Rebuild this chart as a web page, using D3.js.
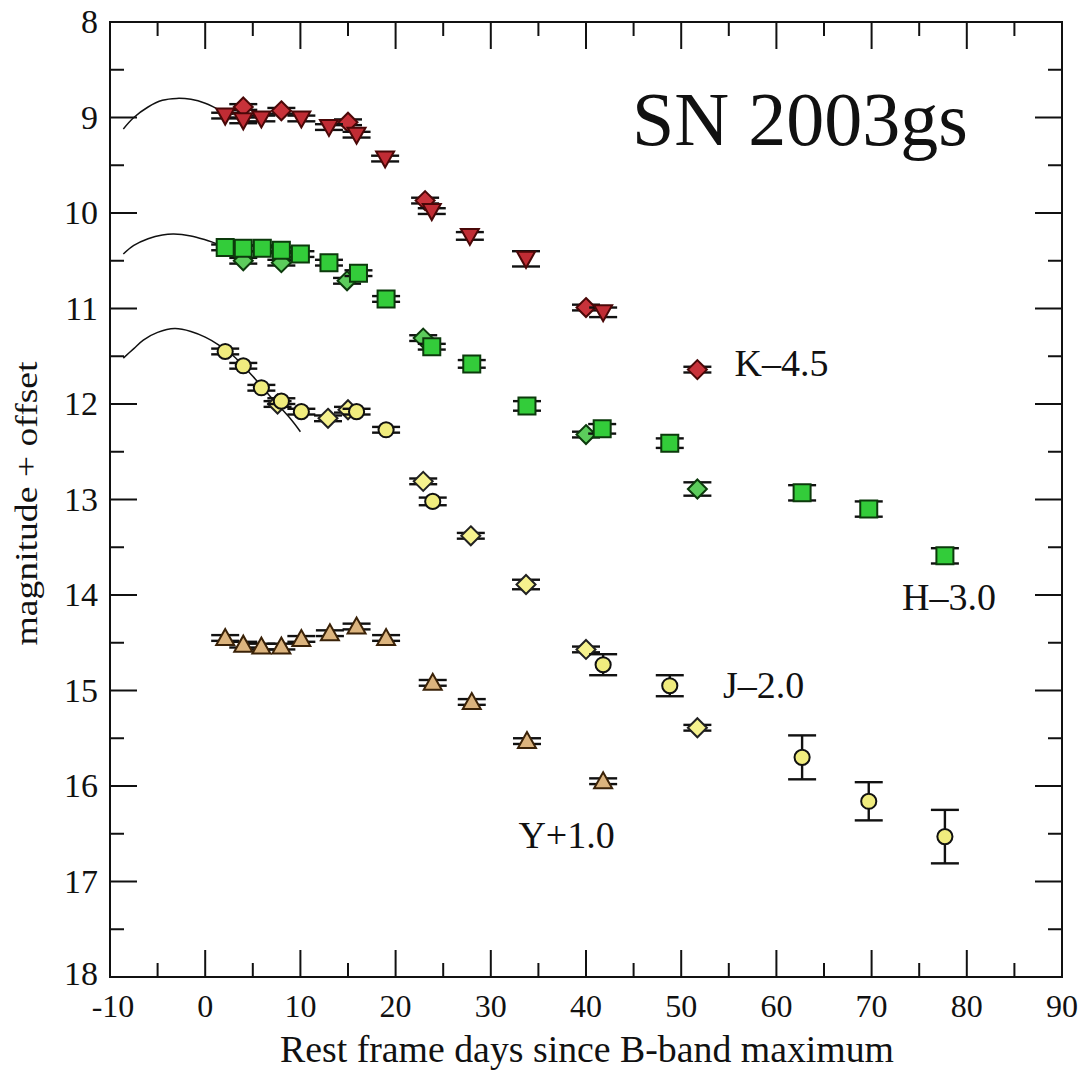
<!DOCTYPE html>
<html>
<head>
<meta charset="utf-8">
<script src="https://cdn.jsdelivr.net/npm/d3@7"></script>
<style>
  html, body { margin: 0; padding: 0; background: #fff; }
  svg { display: block; }
  text { font-family: "Liberation Serif", "DejaVu Serif", serif; fill: #111; }
</style>
</head>
<body>
<svg id="chart" width="1088" height="1070"></svg>
<script>
/* SN 2003gs NIR light curves — [days, magnitude + offset, error] */

const K_TRI = [[2.1, 8.98, 0.03], [4.0, 9.03, 0.03], [5.9, 9.01, 0.03], [10.1, 9.01, 0.03], [13.0, 9.10, 0.03],
  [15.9, 9.18, 0.03], [18.9, 9.43, 0.03], [23.8, 9.98, 0.03], [27.8, 10.24, 0.04], [33.7, 10.48, 0.08], [41.8, 11.04, 0.05]];
const K_DIA = [[4.0, 8.89, 0.03], [8.0, 8.93, 0.03], [15.0, 9.05, 0.03], [23.1, 9.87, 0.03], [40.0, 10.99, 0.03], [51.7, 11.64, 0.03]];

const H_SQ = [[2.1, 10.36, 0.03], [4.0, 10.37, 0.03], [6.0, 10.37, 0.03], [8.0, 10.39, 0.03], [10.0, 10.43, 0.03],
  [13.0, 10.52, 0.03], [16.1, 10.63, 0.03], [19.0, 10.90, 0.03], [23.8, 11.40, 0.03], [28.0, 11.58, 0.04],
  [33.8, 12.02, 0.05], [41.7, 12.26, 0.05], [48.8, 12.41, 0.05], [62.7, 12.93, 0.08], [69.7, 13.10, 0.08], [77.7, 13.59, 0.08]];
const H_DIA = [[4.0, 10.50, 0.03], [8.0, 10.52, 0.03], [14.9, 10.71, 0.03], [22.9, 11.31, 0.03], [40.0, 12.32, 0.03], [51.7, 12.89, 0.07]];

const J_CIR = [[2.1, 11.45, 0.03], [4.0, 11.60, 0.03], [5.9, 11.83, 0.03], [8.0, 11.97, 0.03], [10.1, 12.08, 0.03],
  [15.9, 12.08, 0.03], [19.0, 12.27, 0.03], [23.9, 13.02, 0.04], [41.8, 14.73, 0.11], [48.8, 14.95, 0.11],
  [62.7, 15.70, 0.23], [69.7, 16.16, 0.20], [77.7, 16.53, 0.28]];
const J_DIA = [[7.6, 12.00, 0.03], [12.9, 12.15, 0.03], [15.0, 12.06, 0.03], [22.9, 12.81, 0.03], [27.9, 13.38, 0.03],
  [33.7, 13.89, 0.05], [40.0, 14.57, 0.03], [51.7, 15.39, 0.03]];

const Y_TRI = [[2.1, 14.45, 0.03], [4.0, 14.52, 0.03], [5.9, 14.54, 0.03], [8.0, 14.54, 0.03], [10.1, 14.46, 0.03],
  [13.1, 14.40, 0.03], [15.9, 14.33, 0.03], [19.0, 14.45, 0.03], [23.9, 14.92, 0.03], [28.0, 15.12, 0.03],
  [33.8, 15.53, 0.03], [41.8, 15.95, 0.03]];

// template fits (thin black curves)
const K_TEMPLATE = [[-8.6, 9.12], [-7.5, 9.0], [-6, 8.89], [-4.5, 8.82], [-3, 8.80], [-1.5, 8.81], [0, 8.85], [1.5, 8.92], [3, 8.97]];
const H_TEMPLATE = [[-8.6, 10.43], [-7.5, 10.34], [-6, 10.27], [-4.5, 10.23], [-3.3, 10.22], [-1.5, 10.24], [0, 10.28], [1.5, 10.33], [3, 10.37]];
const J_TEMPLATE = [[-8.6, 11.52], [-7.5, 11.42], [-6.5, 11.33], [-5, 11.25], [-3.2, 11.21], [-1.5, 11.24], [0, 11.30],
  [1.4, 11.38], [3, 11.50], [5, 11.71], [7, 11.94], [9, 12.16], [10, 12.29]];

const BAND_LABELS = [
  { text: "K\u20134.5", t: 55.6, m: 11.71 },
  { text: "H\u20133.0", t: 73.2, m: 14.16 },
  { text: "J\u20132.0", t: 54.4, m: 15.08 },
  { text: "Y+1.0", t: 32.9, m: 16.65 }
];
const TITLE = "SN 2003gs";
const X_TICKS = d3.range(-10, 91, 10);
const Y_TICKS = d3.range(8, 19, 1);

/* ---------- Setup ---------- */

const svg = d3.select("#chart");
const M = { left: 110, right: 1062, top: 22, bottom: 977 };

const x = d3.scaleLinear().domain([-10, 90]).range([M.left, M.right]);
const y = d3.scaleLinear().domain([8, 18]).range([M.top, M.bottom]);

const plot = svg.append("g");

/* ---------- Frame & ticks (inward, all four sides) ---------- */

const axisG = svg.append("g").attr("stroke", "#111").attr("stroke-width", 2);

function ticksInward(values, major) {
  const len = major ? 27 : 14;
  values.forEach((v) => {
    axisG.append("line").attr("x1", x(v)).attr("x2", x(v)).attr("y1", M.bottom).attr("y2", M.bottom - len);
    axisG.append("line").attr("x1", x(v)).attr("x2", x(v)).attr("y1", M.top).attr("y2", M.top + len);
  });
}
function yTicksInward(values, major) {
  const len = major ? 27 : 14;
  values.forEach((v) => {
    axisG.append("line").attr("y1", y(v)).attr("y2", y(v)).attr("x1", M.left).attr("x2", M.left + len);
    axisG.append("line").attr("y1", y(v)).attr("y2", y(v)).attr("x1", M.right).attr("x2", M.right - len);
  });
}
ticksInward(X_TICKS.slice(1, -1), true);
ticksInward(d3.range(-5, 90, 10), false);
yTicksInward(Y_TICKS.slice(1, -1), true);
yTicksInward(d3.range(8.5, 18, 1), false);

axisG.append("rect")
  .attr("x", M.left).attr("y", M.top)
  .attr("width", M.right - M.left).attr("height", M.bottom - M.top)
  .attr("fill", "none");

svg.append("g").selectAll("text").data(X_TICKS).join("text")
  .attr("x", (d) => x(d) + (d < 0 ? 3 : 0)).attr("y", 1017)
  .attr("text-anchor", "middle").attr("font-size", 32)
  .text((d) => d);

svg.append("g").selectAll("text").data(Y_TICKS).join("text")
  .attr("x", 98).attr("y", (d) => y(d) + 11 - (d === 18 ? 3 : 0))
  .attr("text-anchor", "end").attr("font-size", 34)
  .text((d) => d);

svg.append("text")
  .attr("x", 587).attr("y", 1062)
  .attr("text-anchor", "middle").attr("font-size", 37)
  .attr("textLength", 614).attr("lengthAdjust", "spacingAndGlyphs")
  .text("Rest frame days since B-band maximum");

svg.append("text")
  .attr("transform", `translate(37,${(M.top + M.bottom) / 2 + 4}) rotate(-90)`)
  .attr("text-anchor", "middle").attr("font-size", 31)
  .attr("textLength", 284).attr("lengthAdjust", "spacingAndGlyphs")
  .text("magnitude + offset");

/* ---------- Templates ---------- */

const line = d3.line().x((d) => x(d[0])).y((d) => y(d[1])).curve(d3.curveCatmullRom);
[K_TEMPLATE, H_TEMPLATE, J_TEMPLATE].forEach((tpl) => {
  plot.append("path").attr("d", line(tpl))
    .attr("fill", "none").attr("stroke", "#111").attr("stroke-width", 1.5);
});

/* ---------- Markers ---------- */

const SHAPES = {
  triDown: "M-9,-7L9,-7L0,9Z",
  triUp: "M-9,7L9,7L0,-9Z",
  diamond: "M0,-9.5L9.5,0L0,9.5L-9.5,0Z",
  square: "M-8.5,-8.5H8.5V8.5H-8.5Z",
  circle: d3.symbol(d3.symbolCircle, 180)()
};

function series(data, shape, fill, stroke) {
  const g = plot.append("g");
  // error bars with wide caps
  const eb = g.append("g").attr("stroke", "#111").attr("stroke-width", 2.4);
  data.forEach(([t, m, e]) => {
    const cx = x(t), y1 = y(m - e), y2 = y(m + e);
    eb.append("line").attr("x1", cx).attr("x2", cx).attr("y1", y1).attr("y2", y2);
    eb.append("line").attr("x1", cx - 14).attr("x2", cx + 14).attr("y1", y1).attr("y2", y1);
    eb.append("line").attr("x1", cx - 14).attr("x2", cx + 14).attr("y1", y2).attr("y2", y2);
  });
  g.selectAll("path.mk").data(data).join("path")
    .attr("class", "mk")
    .attr("d", SHAPES[shape])
    .attr("transform", (d) => `translate(${x(d[0])},${y(d[1])})`)
    .attr("fill", fill).attr("stroke", stroke).attr("stroke-width", 2);
}

series(K_DIA, "diamond", "#c8323a", "#4a0808");
series(K_TRI, "triDown", "#c02c34", "#4a0808");
series(H_DIA, "diamond", "#5ccc5c", "#0c3a0c");
series(H_SQ, "square", "#33cc3a", "#0c3a0c");
series(J_DIA, "diamond", "#f6f28e", "#222");
series(J_CIR, "circle", "#f0ec7e", "#111");
series(Y_TRI, "triUp", "#dcb47e", "#3a2208");

/* ---------- Labels ---------- */

svg.append("g").selectAll("text").data(BAND_LABELS).join("text")
  .attr("x", (d) => x(d.t)).attr("y", (d) => y(d.m))
  .attr("font-size", 38)
  .text((d) => d.text);

svg.append("text")
  .attr("x", 632).attr("y", 145)
  .attr("font-size", 76)
  .text(TITLE);
</script>
</body>
</html>
